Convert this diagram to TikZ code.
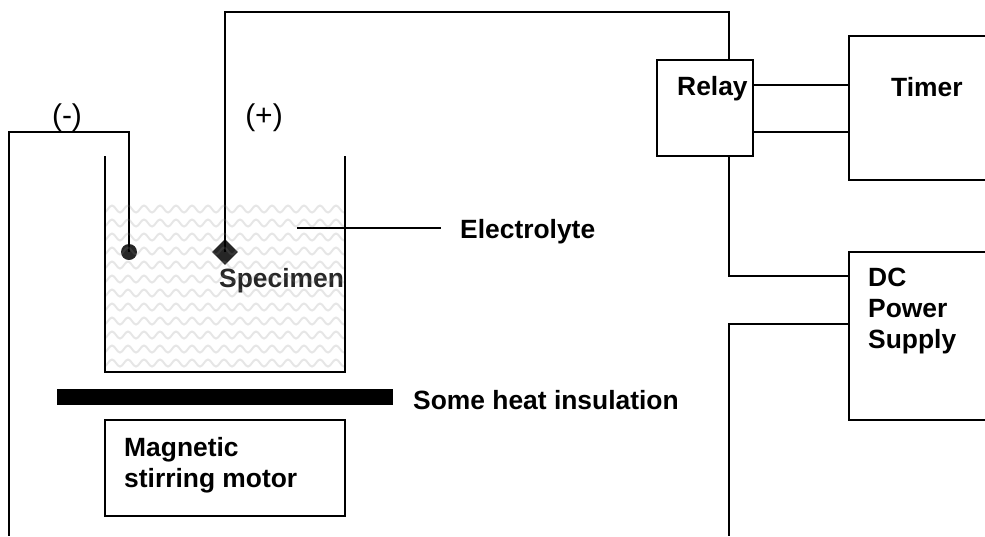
\documentclass[tikz,border=0pt]{standalone}
\usepackage{fontspec}
\setmainfont{Liberation Sans}
\usepackage{tikz}
\usetikzlibrary{positioning,shapes.geometric}
\definecolor{darkpart}{HTML}{262626}

\begin{document}
\begin{tikzpicture}[
    x=1pt,y=-1pt,
    every node/.style={font=\fontsize{26.4}{31}\selectfont\bfseries},
    wire/.style={line width=1.6pt,line join=miter},
    box/.style={draw,line width=1.6pt,rectangle,minimum width=#1,inner sep=0pt,outer sep=0pt},
    wave/.style={gray,opacity=0.2,line width=2pt}
]
\useasboundingbox (0,0) rectangle (985,536);

% Electrodes
\node[circle,fill=darkpart,minimum size=16pt,inner sep=0pt] (cathode) at (129,252) {};
\node[diamond,fill=darkpart,minimum size=26pt,inner sep=0pt] (anode) at (225,252) {};
\node[text=darkpart,anchor=west,inner sep=0pt] (specimen) at (219,281) {Specimen};

% Wires
\coordinate (minusa) at (129,132);
\coordinate (minusb) at (9,132);
\coordinate (minusc) at (9,536);
\draw[wire] (cathode.center) -- (minusa) -- (minusb) -- (minusc);

\coordinate (plusa) at (225,12);
\coordinate (plusb) at (729,12);
\coordinate (relaytop) at (729,60);
\draw[wire] (anode.center) -- (plusa) -- (plusb) -- (relaytop);

\coordinate (leaderend) at (441,228);
\coordinate (leaderstart) at (297,228);
\draw[wire] (leaderstart) -- (leaderend);

% Electrolyte
\begin{scope}
\clip (106,204) rectangle (344,372);
\foreach \row in {0,...,11} {
    \draw[wave] plot[domain=100:350,samples=126] (\x,{209+\row*14-3.5*cos(22.5*(\x-112))});
}
\end{scope}

% Beaker
\coordinate (beakertl) at (105,156);
\coordinate (beakerbl) at (105,372);
\coordinate (beakerbr) at (345,372);
\coordinate (beakertr) at (345,156);
\draw[wire] (beakertl) -- (beakerbl) -- (beakerbr) -- (beakertr);

% Boxes
\node[box=96pt,minimum height=96pt] (relay) at (705,108) {};
\node[box=170pt,minimum height=144pt,anchor=north west] (timer) at (849,36) {};
\node[box=170pt,minimum height=168pt,anchor=north west] (power) at (849,252) {};
\node[box=240pt,minimum height=96pt,anchor=north west] (motor) at (105,420) {};
\node[fill=black,minimum width=336pt,minimum height=16pt,inner sep=0pt,anchor=north west] (insulation) at (57,389) {};

% Box texts
\node[anchor=west,inner sep=0pt] (relaytext) at (677,89) {Relay};
\node[anchor=west,inner sep=0pt] (timertext) at (891,87) {Timer};
\node[anchor=north west,inner sep=0pt,align=left] (powertext) at (868,268) {DC\\Power\\Supply};
\node[anchor=north west,inner sep=0pt,align=left] (motortext) at (124,437) {Magnetic\\stirring motor};
\node[anchor=west,inner sep=0pt] (insulationtext) at (413,400) {Some heat insulation};
\node[anchor=west,inner sep=0pt] (electrolytetext) at (460,232) {Electrolyte};
\node[font=\fontsize{30}{35}\selectfont,inner sep=0pt] (minus) at (67,118) {(-)};
\node[font=\fontsize{30}{35}\selectfont,inner sep=0pt] (plus) at (264,118) {(+)};

% Relay to timer and supply
\coordinate (relayup) at (753,85);
\coordinate (timerup) at (849,85);
\coordinate (relaylow) at (753,132);
\coordinate (timerlow) at (849,132);
\draw[wire] (relayup) -- (timerup);
\draw[wire] (relaylow) -- (timerlow);

\coordinate (relaybot) at (729,156);
\coordinate (relaycorner) at (729,276);
\coordinate (powerup) at (849,276);
\draw[wire] (relaybot) -- (relaycorner) -- (powerup);

\coordinate (powerlow) at (849,324);
\coordinate (lowcorner) at (729,324);
\coordinate (lowend) at (729,536);
\draw[wire] (powerlow) -- (lowcorner) -- (lowend);

\end{tikzpicture}
\end{document}
